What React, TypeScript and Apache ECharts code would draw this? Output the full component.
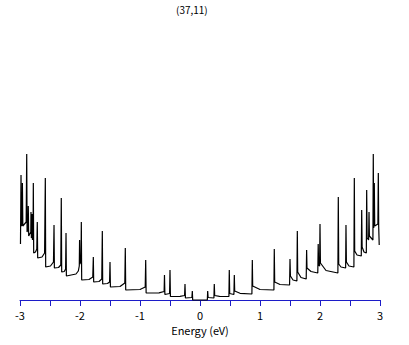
import React, { useEffect, useRef } from "react";
import * as echarts from "echarts";

const title = "(37,11)";
const xName = "Energy (eV)";
const tickValues = [-3, -2, -1, 0, 1, 2, 3];

// Energy (eV) (one row per van Hove spike)
const energy = [
  -2.992,
  -2.983, -2.977,
  -2.963, -2.96, -2.953,
  -2.897, -2.888, -2.882,
  -2.865, -2.862, -2.855,
  -2.82, -2.817, -2.81,
  -2.802, -2.798, -2.792,
  -2.782, -2.778, -2.772,
  -2.742, -2.72, -2.712, -2.705,
  -2.633, -2.59, -2.578, -2.572,
  -2.492, -2.442, -2.433, -2.427,
  -2.358, -2.32, -2.312, -2.305,
  -2.263, -2.24, -2.233, -2.227,
  -2.067, -2.028, -2.012, -2.007, -2.0,
  -1.983, -1.978, -1.972,
  -1.85, -1.787, -1.778, -1.772,
  -1.683, -1.637, -1.628, -1.622,
  -1.542, -1.507, -1.5, -1.493,
  -1.333, -1.253, -1.245, -1.238,
  -1.0, -0.913, -0.905, -0.898,
  -0.683, -0.598, -0.592, -0.585,
  -0.507, -0.5, -0.493,
  -0.333, -0.257, -0.25, -0.243,
  -0.135, -0.128, -0.122,
  0.122, 0.128, 0.135,
  0.232, 0.238, 0.245, 0.325,
  0.482, 0.488, 0.495,
  0.565, 0.572, 0.578, 0.667,
  0.865, 0.872, 0.878, 1.0,
  1.232, 1.238, 1.245, 1.333,
  1.493, 1.5, 1.507, 1.55,
  1.615, 1.622, 1.628, 1.683,
  1.77, 1.777, 1.783, 1.85,
  1.963, 1.97, 1.977,
  1.993, 2.0, 2.007, 2.1,
  2.298, 2.305, 2.312, 2.35,
  2.427, 2.433, 2.44, 2.483,
  2.565, 2.572, 2.578, 2.617,
  2.688, 2.695, 2.702, 2.733,
  2.772, 2.778, 2.785,
  2.81, 2.817, 2.823,
  2.882, 2.888, 2.895,
  2.898, 2.905, 2.912,
  2.965, 2.972, 2.978,
  2.987,
];
// Density of states (arbitrary units), same rows as energy
const dos = [
  0.56,
  1.25, 0.74,
  0.76, 1.17, 0.74,
  0.78, 1.46, 0.68,
  0.72, 0.94, 0.64,
  0.68, 0.88, 0.62,
  0.64, 0.86, 0.6,
  0.63, 1.17, 0.47,
  0.48, 0.51, 0.78, 0.42,
  0.43, 0.47, 1.22, 0.33,
  0.34, 0.38, 0.75, 0.32,
  0.325, 0.35, 1.02, 0.28,
  0.285, 0.31, 0.67, 0.24,
  0.26, 0.29, 0.34, 0.6, 0.36,
  0.4, 0.78, 0.2,
  0.205, 0.23, 0.43, 0.18,
  0.185, 0.21, 0.69, 0.16,
  0.165, 0.18, 0.38, 0.13,
  0.135, 0.17, 0.52, 0.1,
  0.105, 0.13, 0.4, 0.07,
  0.072, 0.085, 0.25, 0.055,
  0.065, 0.3, 0.035,
  0.037, 0.045, 0.16, 0.02,
  0.025, 0.09, 0.0,
  0.0, 0.09, 0.025,
  0.02, 0.16, 0.045, 0.037,
  0.035, 0.3, 0.065,
  0.055, 0.25, 0.09, 0.067,
  0.06, 0.4, 0.14, 0.105,
  0.1, 0.51, 0.18, 0.155,
  0.15, 0.41, 0.24, 0.2,
  0.19, 0.69, 0.28, 0.225,
  0.21, 0.5, 0.32, 0.285,
  0.27, 0.56, 0.35,
  0.34, 0.76, 0.37, 0.295,
  0.27, 1.03, 0.36, 0.33,
  0.32, 0.75, 0.38, 0.34,
  0.33, 1.22, 0.49, 0.45,
  0.44, 0.9, 0.53, 0.48,
  0.47, 1.1, 0.62,
  0.6, 0.88, 0.64,
  0.6, 1.46, 0.72,
  0.74, 1.17, 0.74,
  0.76, 1.27, 0.74,
  0.55,
];

export default function App() {
  const ref = useRef<HTMLDivElement>(null);
  useEffect(() => {
    if (!ref.current) return;
    const chart = echarts.init(ref.current, undefined, { renderer: "svg" });
    const data = energy.map((e, i) => [e, dos[i]]);
    const font = "'Noto Sans CJK JP', 'DejaVu Sans', sans-serif";
    chart.setOption({
      animation: false,
      backgroundColor: "#ffffff",
      title: {
        text: title,
        left: 171,
        top: -1,
        textStyle: { fontSize: 10, fontWeight: "normal", color: "#000", fontFamily: font },
      },
      grid: { left: 20, right: 29, top: 150, bottom: 45 },
      xAxis: {
        type: "value",
        min: -3,
        max: 3,
        interval: 1,
        name: xName,
        nameLocation: "middle",
        nameGap: 24,
        nameTextStyle: { fontSize: 11, color: "#000", fontFamily: font },
        axisLine: { show: true, lineStyle: { color: "#1c1cc8", width: 1 } },
        axisTick: { show: true, inside: false, length: 6, lineStyle: { color: "#1c1cc8", width: 1 } },
        minorTick: { show: true, splitNumber: 2, length: 6, lineStyle: { color: "#1c1cc8", width: 1 } },
        axisLabel: {
          margin: 9,
          fontSize: 11,
          color: "#000",
          fontFamily: font,
          customValues: tickValues,
          formatter: (v: number) => String(v),
        },
        splitLine: { show: false },
      },
      yAxis: {
        type: "value",
        min: 0,
        max: 1.5,
        show: false,
        splitLine: { show: false },
      },
      series: [
        {
          type: "line",
          data,
          showSymbol: false,
          symbol: "none",
          clip: false,
          lineStyle: { color: "#000", width: 1.2 },
          z: 5,
        },
      ],
    });
    return () => chart.dispose();
  }, []);
  return (
    <div
      ref={ref}
      style={{ position: "absolute", left: 0, top: 0, width: 409, height: 345 }}
    />
  );
}
